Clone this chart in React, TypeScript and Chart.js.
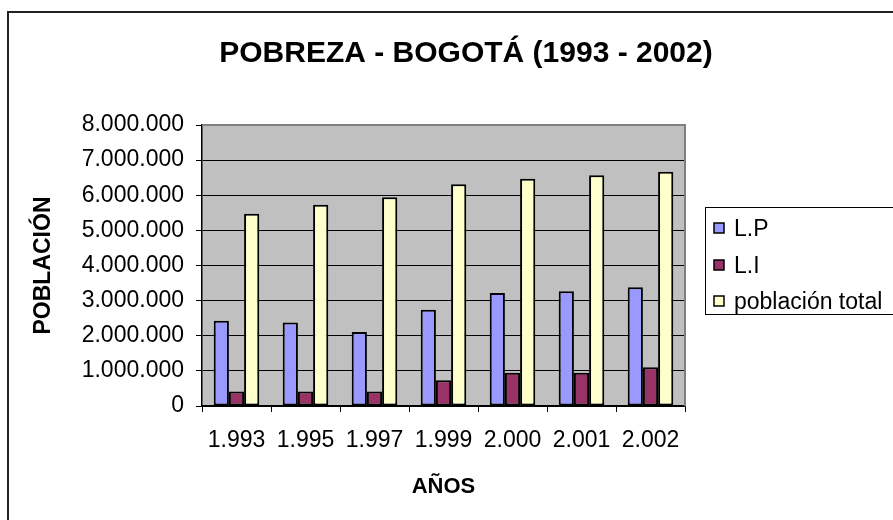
import React, { useEffect, useRef } from 'react';
import { Chart, registerables } from 'chart.js';

Chart.register(...registerables);

const categories = ['1.993', '1.995', '1.997', '1.999', '2.000', '2.001', '2.002'];
const seriesLabels = ['L.P', 'L.I', 'población total'];
const lpValues = [2430000, 2380000, 2110000, 2740000, 3220000, 3270000, 3380000];
const liValues = [410000, 410000, 410000, 730000, 950000, 950000, 1100000];
const totalValues = [5470000, 5730000, 5940000, 6310000, 6470000, 6570000, 6670000];
const yMin = 0;
const yMax = 8000000;
const yStep = 1000000;
const titleText = 'POBREZA - BOGOTÁ (1993 - 2002)';
const xTitle = 'AÑOS';
const yTitle = 'POBLACIÓN';

const FONT = "'Liberation Sans', Arial, sans-serif";

const fmt = (v: number) => String(Math.round(v)).replace(/\B(?=(\d{3})+(?!\d))/g, '.');

const framePlugin = {
  id: 'frame',
  afterLayout(chart: any) {
    if (chart.titleBlock) {
      chart.titleBlock.left = 7;
      chart.titleBlock.right = 925;
    }
  },
  beforeDraw(chart: any) {
    const { ctx, chartArea } = chart;
    ctx.save();
    ctx.fillStyle = '#ffffff';
    ctx.fillRect(0, 0, chart.width, chart.height);
    ctx.strokeStyle = '#222222';
    ctx.lineWidth = 2;
    ctx.strokeRect(8, 12, 1000, 1000);
    ctx.fillStyle = '#c0c0c0';
    ctx.fillRect(chartArea.left, chartArea.top, chartArea.right - chartArea.left, chartArea.bottom - chartArea.top);
    ctx.restore();
  },
  afterDatasetsDraw(chart: any) {
    const { ctx, chartArea } = chart;
    ctx.save();
    ctx.strokeStyle = '#808080';
    ctx.lineWidth = 2;
    ctx.beginPath();
    ctx.moveTo(chartArea.left, chartArea.top);
    ctx.lineTo(chartArea.right, chartArea.top);
    ctx.lineTo(chartArea.right, chartArea.bottom);
    ctx.stroke();
    ctx.restore();
  },
  afterDraw(chart: any) {
    const { ctx } = chart;
    ctx.save();
    ctx.strokeStyle = '#000000';
    ctx.lineWidth = 1;
    ctx.strokeRect(705.5, 207.5, 220, 107);
    const baselines = [236, 273, 309];
    chart.data.datasets.forEach((ds: any, i: number) => {
      const b = baselines[i];
      const cy = b - 8;
      ctx.fillStyle = ds.backgroundColor;
      ctx.fillRect(714, cy - 5, 10, 10);
      ctx.strokeStyle = '#000';
      ctx.lineWidth = 1.5;
      ctx.strokeRect(714, cy - 5, 10, 10);
      ctx.fillStyle = '#000';
      ctx.font = `23px ${FONT}`;
      ctx.textBaseline = 'alphabetic';
      ctx.textAlign = 'left';
      ctx.fillText(ds.label, 734, b);
    });
    ctx.restore();
  },
};

export default function App() {
  const ref = useRef<HTMLCanvasElement | null>(null);

  useEffect(() => {
    if (!ref.current) return;
    const barCommon = {
      borderColor: '#000000',
      borderWidth: 2,
      borderSkipped: false as any,
      categoryPercentage: 0.66,
      barPercentage: 1,
    };
    const chart = new Chart(ref.current, {
      type: 'bar',
      data: {
        labels: categories,
        datasets: [
          { label: seriesLabels[0], data: lpValues, backgroundColor: '#9999ff', ...barCommon },
          { label: seriesLabels[1], data: liValues, backgroundColor: '#993366', ...barCommon },
          { label: seriesLabels[2], data: totalValues, backgroundColor: '#ffffcc', ...barCommon },
        ],
      },
      options: {
        animation: false,
        responsive: false,
        layout: { padding: { left: 0, right: 208, top: 0, bottom: 0 } },
        plugins: {
          legend: { display: false },
          tooltip: { enabled: false },
          title: {
            display: true,
            text: titleText,
            color: '#000',
            font: { family: FONT, size: 30, weight: 'bold', lineHeight: 1.2 },
            padding: { top: 36, bottom: 53 },
          },
        },
        scales: {
          x: {
            offset: true,
            grid: {
              offset: true,
              drawOnChartArea: false,
              color: '#000',
              tickLength: 6,
              lineWidth: 1,
            },
            border: { display: true, color: '#000', width: 1.5 },
            ticks: {
              color: '#000',
              font: { family: FONT, size: 23 },
              padding: 15,
              maxRotation: 0,
              autoSkip: false,
            },
            title: {
              display: true,
              text: xTitle,
              color: '#000',
              font: { family: FONT, size: 22, weight: 'bold', lineHeight: 1.2 },
              padding: { top: 0, bottom: 20 },
            },
            afterFit(scale: any) {
              scale.height = 114;
            },
          },
          y: {
            min: yMin,
            max: yMax,
            ticks: {
              stepSize: yStep,
              color: '#000',
              font: { family: FONT, size: 23 },
              padding: 12,
              callback: (v: any) => fmt(Number(v)),
            },
            grid: {
              color: (c: any) => (c.tick && c.tick.value === yMax ? '#808080' : '#000000'),
              tickColor: '#000000',
              tickLength: 6,
              lineWidth: 1,
            },
            border: { display: true, color: '#000', width: 1.5 },
            title: {
              display: true,
              text: yTitle,
              color: '#000',
              font: { family: FONT, size: 23, weight: 'bold', lineHeight: 1.2 },
              padding: { top: 30, bottom: 0 },
            },
            afterFit(scale: any) {
              scale.width = 202;
            },
          },
        },
      },
      plugins: [framePlugin],
    });
    return () => chart.destroy();
  }, []);

  return (
    <div style={{ position: 'absolute', left: 0, top: 0, width: 893, height: 520 }}>
      <canvas ref={ref} width={893} height={520} style={{ display: 'block', width: 893, height: 520 }} />
    </div>
  );
}
